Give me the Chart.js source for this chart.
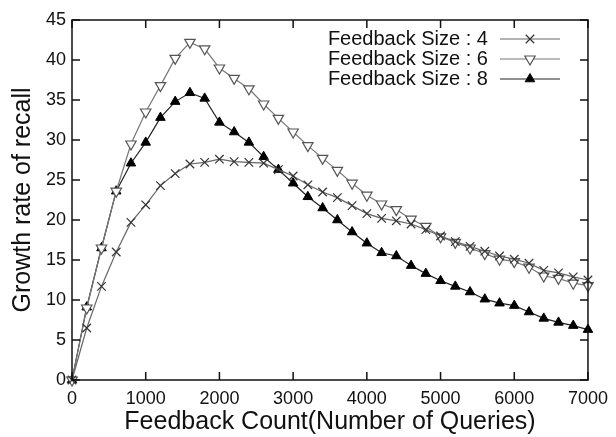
<!DOCTYPE html>
<html>
<head>
<meta charset="utf-8">
<script src="https://cdn.jsdelivr.net/npm/chart.js@4/dist/chart.umd.min.js"></script>
<style>
  html, body { margin: 0; padding: 0; background: #fff; }
  #wrap { width: 616px; height: 437px; }
</style>
</head>
<body>
<div id="wrap"><canvas id="growthChart" width="616" height="437"></canvas></div>
<script>
// feedback counts (x), step 200
const feedbackCounts = [0, 200, 400, 600, 800, 1000, 1200, 1400, 1600, 1800, 2000, 2200, 2400, 2600, 2800, 3000, 3200, 3400,
  3600, 3800, 4000, 4200, 4400, 4600, 4800, 5000, 5200, 5400, 5600, 5800, 6000, 6200, 6400, 6600, 6800, 7000];

const size4 = [0, 6.5, 11.7, 16.0, 19.7, 21.9, 24.3, 25.8, 27.0, 27.2, 27.6, 27.3, 27.2, 27.1, 26.3, 25.5, 24.4, 23.5,
  22.8, 21.8, 20.8, 20.2, 19.9, 19.5, 18.8, 18.0, 17.3, 16.7, 16.1, 15.5, 15.1, 14.6, 13.7, 13.4, 12.9, 12.5];
const size6 = [0, 9.0, 16.5, 23.6, 29.5, 33.5, 36.8, 40.2, 42.2, 41.4, 39.0, 37.7, 36.4, 34.5, 32.7, 31.0, 29.3, 27.7,
  26.2, 24.6, 23.1, 22.0, 21.3, 20.1, 19.2, 17.9, 17.2, 16.5, 15.8, 15.1, 14.8, 14.1, 13.0, 12.7, 12.1, 11.8];
const size8 = [0, 9.1, 16.5, 23.6, 27.1, 29.7, 32.8, 34.8, 35.9, 35.2, 32.2, 31.0, 29.7, 27.9, 26.3, 24.6, 22.9, 21.5,
  20.0, 18.5, 17.1, 15.9, 15.5, 14.3, 13.3, 12.4, 11.7, 11.0, 10.1, 9.6, 9.3, 8.5, 7.7, 7.2, 6.8, 6.3];

const seriesLabels = ['Feedback Size : 4', 'Feedback Size : 6', 'Feedback Size : 8'];

const FONT = 'Liberation Sans, Arial, sans-serif';

function toPoints(ys) {
  return feedbackCounts.map((x, i) => ({ x: x, y: ys[i] }));
}

// frame with inward ticks on all four sides
const framePlugin = {
  id: 'frame',
  afterDatasetsDraw(chart) {
    const ctx = chart.ctx;
    const a = chart.chartArea;
    const xs = chart.scales.x, ys = chart.scales.y;
    const tl = 8;
    ctx.save();
    ctx.strokeStyle = '#111';
    ctx.lineWidth = 1.5;
    ctx.strokeRect(a.left, a.top, a.right - a.left, a.bottom - a.top);
    ctx.beginPath();
    xs.ticks.forEach((t, i) => {
      const px = xs.getPixelForTick(i);
      ctx.moveTo(px, a.bottom); ctx.lineTo(px, a.bottom - tl);
      ctx.moveTo(px, a.top); ctx.lineTo(px, a.top + tl);
    });
    ys.ticks.forEach((t, i) => {
      const py = ys.getPixelForTick(i);
      ctx.moveTo(a.left, py); ctx.lineTo(a.left + tl, py);
      ctx.moveTo(a.right, py); ctx.lineTo(a.right - tl, py);
    });
    ctx.stroke();
    ctx.restore();
  }
};

// gnuplot-like legend: text right-aligned, then line sample with marker
const legendPlugin = {
  id: 'sampleLegend',
  afterDraw(chart) {
    const ctx = chart.ctx;
    const a = chart.chartArea;
    const textRight = a.right - 100;
    const x0 = a.right - 88, x1 = a.right - 28;
    ctx.save();
    ctx.font = '20px ' + FONT;
    ctx.textAlign = 'right';
    ctx.textBaseline = 'middle';
    chart.data.datasets.forEach((ds, i) => {
      const y = a.top + 19 + i * 20;
      ctx.fillStyle = '#111';
      ctx.fillText(ds.label, textRight, y);
      ctx.strokeStyle = ds.borderColor;
      ctx.lineWidth = ds.borderWidth;
      ctx.beginPath();
      ctx.moveTo(x0, y); ctx.lineTo(x1, y);
      ctx.stroke();
      ctx.fillStyle = ds.pointBackgroundColor;
      ctx.strokeStyle = ds.pointBorderColor;
      ctx.lineWidth = ds.pointBorderWidth;
      Chart.helpers.drawPoint(ctx, {
        pointStyle: ds.pointStyle,
        rotation: ds.pointRotation || 0,
        radius: ds.pointRadius,
        borderWidth: ds.pointBorderWidth
      }, (x0 + x1) / 2, y);
    });
    ctx.restore();
  }
};

new Chart(document.getElementById('growthChart'), {
  type: 'line',
  data: {
    datasets: [
      {
        label: seriesLabels[0],
        data: toPoints(size4),
        borderColor: '#666',
        borderWidth: 1.2,
        pointStyle: 'crossRot',
        pointRadius: 6,
        pointBorderColor: '#333',
        pointBackgroundColor: '#333',
        pointBorderWidth: 1.2,
        tension: 0,
        clip: false
      },
      {
        label: seriesLabels[1],
        data: toPoints(size6),
        borderColor: '#777',
        borderWidth: 1.2,
        pointStyle: 'triangle',
        pointRotation: 180,
        pointRadius: 6,
        pointBorderColor: '#555',
        pointBackgroundColor: '#fff',
        pointBorderWidth: 1.2,
        tension: 0,
        clip: false
      },
      {
        label: seriesLabels[2],
        data: toPoints(size8),
        borderColor: '#222',
        borderWidth: 1.2,
        pointStyle: 'triangle',
        pointRadius: 5.5,
        pointBorderColor: '#000',
        pointBackgroundColor: '#000',
        pointBorderWidth: 1,
        tension: 0,
        clip: false
      }
    ]
  },
  options: {
    responsive: false,
    animation: false,
    layout: { padding: { left: 0, right: 24, top: 20, bottom: 0 } },
    plugins: {
      legend: { display: false },
      tooltip: { enabled: false }
    },
    scales: {
      x: {
        type: 'linear',
        min: 0,
        max: 7000,
        ticks: { stepSize: 1000, color: '#111', padding: 8, font: { family: FONT, size: 18 },
                 callback: v => String(v) },
        grid: { display: false, drawTicks: false },
        border: { display: false },
        title: { display: true, text: 'Feedback Count(Number of Queries)', color: '#111',
                 font: { family: FONT, size: 25 }, padding: { top: 0, bottom: 0 } },
        afterFit(scale) { scale.height = 57; }
      },
      y: {
        min: 0,
        max: 45,
        ticks: { stepSize: 5, color: '#111', padding: 6, font: { family: FONT, size: 18 } },
        grid: { display: false, drawTicks: false },
        border: { display: false },
        title: { display: true, text: 'Growth rate of recall', color: '#111',
                 font: { family: FONT, size: 25 }, padding: { top: 8, bottom: 0 } },
        afterFit(scale) { scale.width = 72; }
      }
    }
  },
  plugins: [framePlugin, legendPlugin]
});
</script>
</body>
</html>
